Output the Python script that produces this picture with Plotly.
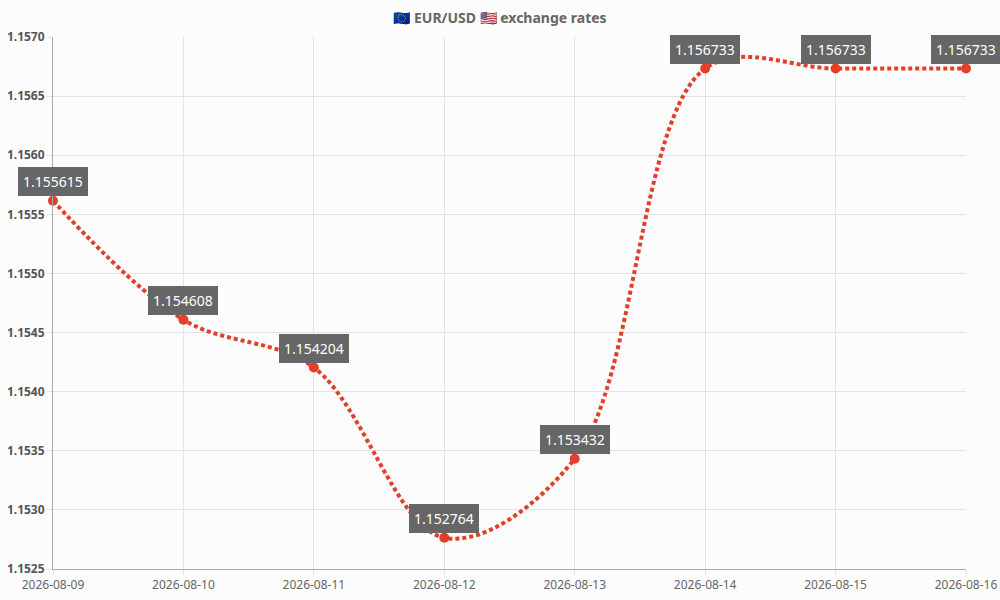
import plotly.graph_objects as go

dates = ["2026-08-09", "2026-08-10", "2026-08-11", "2026-08-12",
         "2026-08-13", "2026-08-14", "2026-08-15", "2026-08-16"]
rates = [1.155615, 1.154608, 1.154204, 1.152764,
         1.153432, 1.156733, 1.156733, 1.156733]
y_ticks = [1.1525, 1.1530, 1.1535, 1.1540, 1.1545, 1.1550, 1.1555, 1.1560, 1.1565, 1.1570]

red = "#e23f28"

fig = go.Figure()
fig.add_trace(go.Scatter(
    x=dates, y=rates, mode="lines+markers",
    line=dict(color=red, width=4, dash="4px,3px", shape="spline", smoothing=1.0),
    marker=dict(color=red, size=10),
    cliponaxis=False, hoverinfo="x+y",
))

# value labels above each point
for d, r in zip(dates, rates):
    fig.add_annotation(
        x=d, y=r, text=f"{r:.6f}", showarrow=False,
        yanchor="bottom", yshift=5,
        bgcolor="#666666", bordercolor="#666666", borderwidth=1, borderpad=4,
        font=dict(color="white", size=14, family="Noto Sans"),
    )

fig.update_layout(
    width=1000, height=600,
    margin=dict(l=53, r=34, t=37, b=31),
    paper_bgcolor="#fcfcfc", plot_bgcolor="#fcfcfc",
    showlegend=False,
    font=dict(family="Noto Sans", color="#666666"),
    title=dict(text="🇪🇺 EUR/USD 🇺🇸 exchange rates", x=0.5, xanchor="center",
               y=0.97, yanchor="middle",
               font=dict(size=14, color="#666666", weight="bold")),
)
fig.update_xaxes(
    type="date", range=[dates[0], dates[-1]], dtick=86400000, tickformat="%Y-%m-%d",
    showgrid=True, gridcolor="#e3e3e3", gridwidth=1,
    showline=True, linecolor="#aaaaaa", linewidth=1,
    ticks="outside", ticklen=5, tickcolor="#e3e3e3",
    tickfont=dict(size=12, color="#666666"), zeroline=False, automargin=False,
)
fig.update_yaxes(
    range=[y_ticks[0], y_ticks[-1]], tickvals=y_ticks, tickformat=".4f",
    showgrid=True, gridcolor="#e3e3e3", gridwidth=1,
    showline=True, linecolor="#aaaaaa", linewidth=1,
    ticks="outside", ticklen=5, tickcolor="#e3e3e3",
    tickfont=dict(size=12, color="#555555", weight="bold"), zeroline=False, automargin=False,
)

# drop the default page margin so the chart sits at the window corner
fig.write_html("out.html", config={"displayModeBar": False},
               post_script="document.body.style.margin='0';")
